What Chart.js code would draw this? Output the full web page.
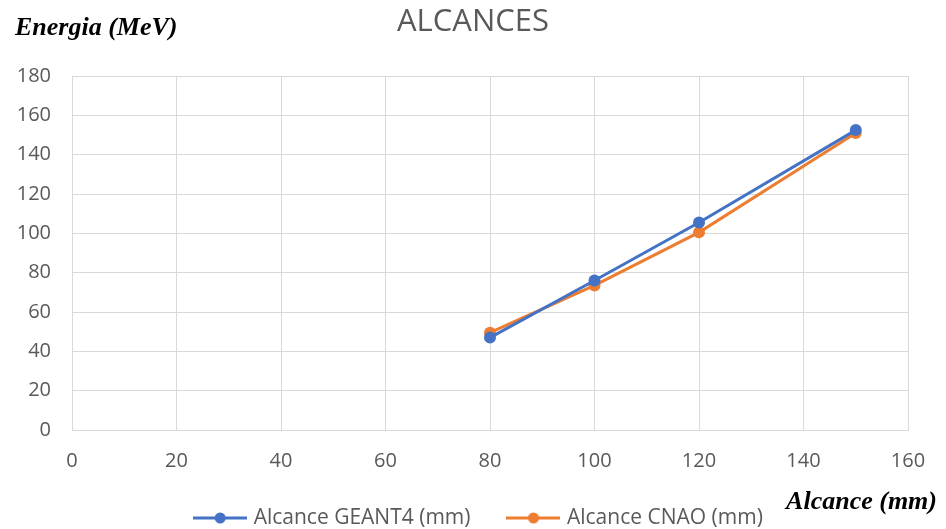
<!DOCTYPE html>
<html>
<head>
<meta charset="utf-8">
<script src="https://cdn.jsdelivr.net/npm/chart.js@4/dist/chart.umd.min.js"></script>
<style>
  html, body { margin: 0; padding: 0; background: #ffffff; }
  #wrap { width: 946px; height: 529px; }
</style>
</head>
<body>
<div id="wrap"><canvas id="chart" width="946" height="529"></canvas></div>
<script>
// Range (mm) vs energy (MeV)
const alcances = [80, 100, 120, 150];
const energiaGeant4 = [47, 76, 105.5, 152.5];
const energiaCnao = [49.5, 73.5, 100.5, 151];
const seriesNames = ['Alcance GEANT4 (mm)', 'Alcance CNAO (mm)'];
const chartTitle = 'ALCANCES';
const yTitle = 'Energia (MeV)';
const xTitle = 'Alcance (mm)';

const BLUE = '#4472c4';
const ORANGE = '#ed7d31';
const GREY_TEXT = '#595959';
const GRID = '#d9d9d9';

// legend marker: short line with a dot in the middle
function lineDotIcon(color) {
  const c = document.createElement('canvas');
  c.width = 54; c.height = 14;
  const g = c.getContext('2d');
  g.strokeStyle = color; g.lineWidth = 3;
  g.beginPath(); g.moveTo(0, 7); g.lineTo(54, 7); g.stroke();
  g.fillStyle = color;
  g.beginPath(); g.arc(27, 7, 5.5, 0, Math.PI * 2); g.fill();
  return c;
}
const icons = [lineDotIcon(BLUE), lineDotIcon(ORANGE)];

const toPoints = (xs, ys) => xs.map((x, i) => ({ x: x, y: ys[i] }));

// axis titles drawn as plain text at the corners
const axisTitles = {
  id: 'axisTitles',
  afterDraw(chart) {
    const ctx = chart.ctx;
    ctx.save();
    ctx.fillStyle = '#000000';
    ctx.font = 'italic bold 26px "Liberation Serif"';
    ctx.textBaseline = 'alphabetic';
    ctx.textAlign = 'left';
    ctx.fillText(yTitle, 15, 35);
    ctx.textAlign = 'right';
    ctx.fillText(xTitle, 937, 509);
    ctx.restore();
  }
};

// nudge the legend into place below the axis, and let the x labels
// use the full space down to the canvas edge
const legendShift = {
  id: 'legendShift',
  afterLayout(chart) {
    const lg = chart.legend;
    const dx = 7, dy = 9.5;
    lg.left += dx; lg.right += dx;
    lg.top += dy; lg.bottom += dy;
    chart.scales.x.bottom = chart.height;
  }
};

new Chart(document.getElementById('chart'), {
  type: 'line',
  data: {
    datasets: [
      {
        label: seriesNames[0],
        data: toPoints(alcances, energiaGeant4),
        borderColor: BLUE,
        backgroundColor: BLUE,
        borderWidth: 3,
        pointRadius: 6,
        pointHoverRadius: 6,
        pointBorderWidth: 0,
        tension: 0
      },
      {
        label: seriesNames[1],
        data: toPoints(alcances, energiaCnao),
        borderColor: ORANGE,
        backgroundColor: ORANGE,
        borderWidth: 3,
        pointRadius: 6,
        pointHoverRadius: 6,
        pointBorderWidth: 0,
        tension: 0
      }
    ]
  },
  options: {
    responsive: false,
    animation: false,
    layout: { padding: 0 },
    plugins: {
      title: {
        display: true,
        text: chartTitle,
        color: GREY_TEXT,
        font: { family: '"Open Sans"', size: 31, weight: 'normal' },
        padding: { top: 3.5, bottom: 35.3 }
      },
      legend: {
        display: true,
        position: 'bottom',
        labels: {
          color: GREY_TEXT,
          font: { family: '"Open Sans"', size: 21 },
          usePointStyle: true,
          pointStyleWidth: 46,
          padding: 40,
          generateLabels(chart) {
            return chart.data.datasets.map((ds, i) => ({
              text: ds.label,
              fillStyle: ds.borderColor,
              strokeStyle: ds.borderColor,
              fontColor: GREY_TEXT,
              lineWidth: 0,
              pointStyle: icons[i],
              datasetIndex: i,
              hidden: false
            }));
          }
        }
      },
      tooltip: { enabled: false }
    },
    scales: {
      x: {
        type: 'linear',
        min: 0,
        max: 160,
        ticks: {
          stepSize: 20,
          color: GREY_TEXT,
          font: { family: '"Open Sans"', size: 20 },
          padding: 19
        },
        grid: { color: GRID, lineWidth: 1, drawTicks: false },
        border: { color: GRID, width: 1 },
        afterFit(s) { s.height = 529 - 430 - s.chart.legend.height; }
      },
      y: {
        min: 0,
        max: 180,
        ticks: {
          stepSize: 20,
          color: GREY_TEXT,
          font: { family: '"Open Sans"', size: 20 },
          padding: 21
        },
        grid: { color: GRID, lineWidth: 1, drawTicks: false },
        border: { color: GRID, width: 1 },
        afterFit(s) { s.width = 72; }
      },
      spacer: {
        position: 'right',
        display: true,
        ticks: { display: false },
        grid: { display: false, drawTicks: false },
        border: { display: false },
        afterFit(s) { s.width = 38; }
      }
    }
  },
  plugins: [axisTitles, legendShift]
});
</script>
</body>
</html>
